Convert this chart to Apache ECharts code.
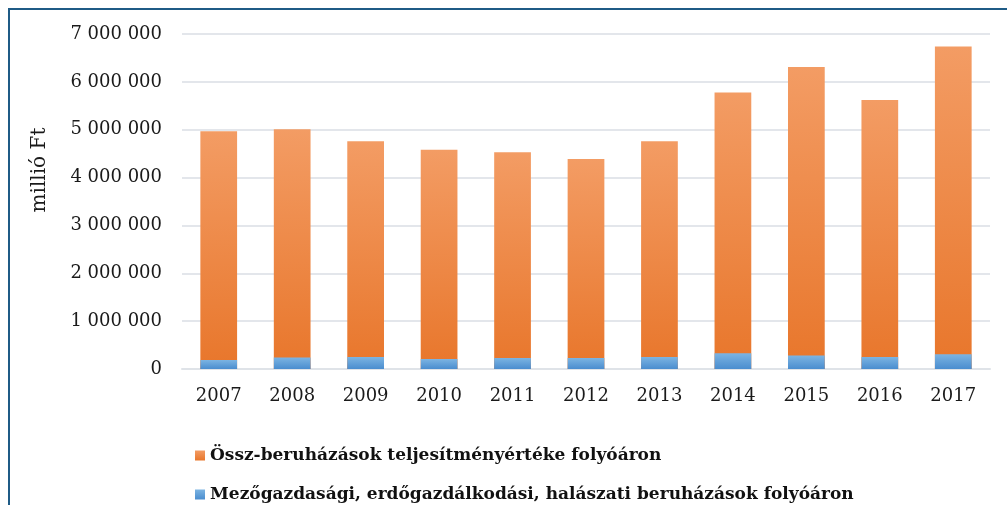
<!DOCTYPE html>
<html>
<head>
<meta charset="utf-8">
<script src="https://cdn.jsdelivr.net/npm/echarts@6/dist/echarts.min.js"></script>
<style>
  html, body { margin: 0; padding: 0; background: #fff; }
  #chart { width: 1007px; height: 505px; }
</style>
</head>
<body>
<div id="chart"></div>
<script>
// évek
var years = ['2007', '2008', '2009', '2010', '2011', '2012', '2013', '2014', '2015', '2016', '2017'];
// összes beruházás, millió Ft
var osszBeruhazas = [4970000, 5010000, 4760000, 4580000, 4530000, 4390000, 4760000, 5780000, 6310000, 5620000, 6740000];
// mezőgazdasági beruházás, millió Ft
var mezogazdBeruhazas = [190000, 240000, 250000, 210000, 230000, 230000, 250000, 330000, 280000, 250000, 310000];

var nameOssz = 'Össz-beruházások teljesítményértéke folyóáron';
var nameMezo = 'Mezőgazdasági, erdőgazdálkodási, halászati beruházások folyóáron';

var serif = '"DejaVu Serif", "Liberation Serif", serif';

function grad(top, bottom) {
    return new echarts.graphic.LinearGradient(0, 0, 0, 1, [
        { offset: 0, color: top },
        { offset: 1, color: bottom }
    ]);
}

function fmt(v) {
    return String(v).replace(/\B(?=(\d{3})+(?!\d))/g, ' ');
}

var legendText = { fontFamily: serif, fontWeight: 'bold', fontSize: 17, color: '#111' };

var chart = echarts.init(document.getElementById('chart'));
chart.setOption({
    animation: false,
    graphic: [
        {
            type: 'rect',
            shape: { x: 9, y: 9, width: 1100, height: 600 },
            style: { fill: 'none', stroke: '#1f5b86', lineWidth: 2 }
        },
        {
            type: 'text',
            x: 40, y: 170,
            rotation: Math.PI / 2,
            style: {
                text: 'millió Ft',
                font: '20px ' + serif,
                fill: '#1a1a1a',
                align: 'center',
                verticalAlign: 'middle'
            }
        }
    ],
    grid: { left: 182, right: 17, top: 34, bottom: 136 },
    legend: [
        {
            left: 190, top: 442,
            itemWidth: 10, itemHeight: 10, icon: 'rect',
            data: [nameOssz],
            textStyle: legendText
        },
        {
            left: 190, top: 481,
            itemWidth: 10, itemHeight: 10, icon: 'rect',
            data: [nameMezo],
            textStyle: legendText
        }
    ],
    xAxis: {
        type: 'category',
        data: years,
        axisLine: { lineStyle: { color: '#dfe3e8', width: 2 } },
        axisTick: { show: false },
        axisLabel: { fontFamily: serif, fontSize: 18, color: '#1a1a1a', margin: 18 }
    },
    yAxis: {
        type: 'value',
        min: 0,
        max: 7000000,
        interval: 1000000,
        axisLine: { show: false },
        axisTick: { show: false },
        splitLine: { lineStyle: { color: '#e3e6eb', width: 2 } },
        axisLabel: {
            fontFamily: serif, fontSize: 18, color: '#1a1a1a', margin: 20,
            formatter: fmt
        }
    },
    series: [
        {
            name: nameOssz,
            type: 'bar',
            barWidth: '50%',
            barGap: '-100%',
            data: osszBeruhazas,
            itemStyle: { color: grad('#f39c64', '#e8762b') }
        },
        {
            name: nameMezo,
            type: 'bar',
            barWidth: '50%',
            data: mezogazdBeruhazas,
            itemStyle: { color: grad('#7cb4e2', '#4a8dcf') }
        }
    ]
});
</script>
</body>
</html>
